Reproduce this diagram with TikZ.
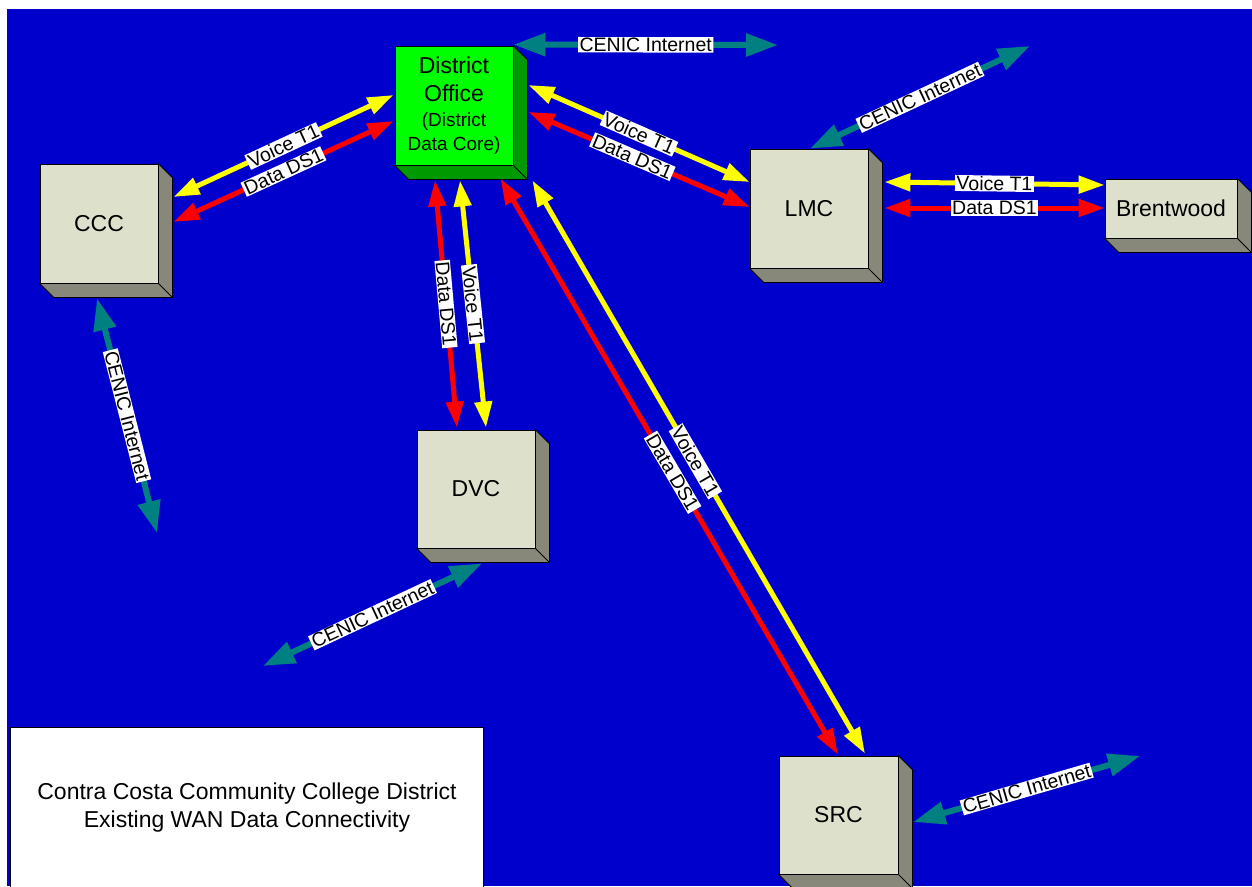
\documentclass[tikz,border=0pt]{standalone}
\usepackage{fontspec}
\setmainfont{Liberation Sans}
\usepackage{xcolor}
\definecolor{wanblue}{RGB}{0, 0, 204}
\definecolor{voiceyellow}{RGB}{255, 255, 0}
\definecolor{datared}{RGB}{255, 0, 0}
\definecolor{cenicteal}{RGB}{0, 128, 128}
\definecolor{sitefront}{RGB}{221, 224, 202}
\definecolor{siteside}{RGB}{136, 136, 122}
\definecolor{corefront}{RGB}{0, 255, 0}
\definecolor{coreside}{RGB}{0, 153, 0}
\usetikzlibrary{arrows.meta, positioning, calc}

\newcommand{\corenote}{\fontsize{19}{23}\selectfont}
% name, position, width, height, front, side, font, text
\newcommand{\sitebox}[8]{%
    \node[face, fill=#5, minimum width=#3, minimum height=#4, font=#7] (#1) at #2 {#8};
    \filldraw[#6, draw=black, line width=0.8pt] (#1.north east) -- ++(14,14) -- ($(#1.south east)+(14,14)$) -- ($(#1.south west)+(14,14)$) -- (#1.south west) -- (#1.south east) -- cycle;
    \draw[line width=0.8pt] (#1.south east) -- ++(14,14);
}

\begin{document}
\begin{tikzpicture}[x=1pt, y=-1pt,
    face/.style={draw=black, line width=0.8pt, inner sep=0pt, align=center},
    lbl/.style={fill=white, inner xsep=1.5pt, inner ysep=0.8pt, sloped, font=\fontsize{19.5}{21}\selectfont},
    voice/.style={draw=voiceyellow, line width=5pt, {Triangle[length=26pt,width=17pt]}-{Triangle[length=26pt,width=17pt]}},
    data/.style={draw=datared, line width=5pt, {Triangle[length=26pt,width=17pt]}-{Triangle[length=26pt,width=17pt]}},
    cenic/.style={draw=cenicteal, line width=6pt, {Triangle[length=32pt,width=22pt]}-{Triangle[length=32pt,width=22pt]}}]
    \useasboundingbox (0,0) rectangle (1252,886);
    \clip (0,0) rectangle (1252,886);
    \fill[white] (0,0) rectangle (1252,886);
    \fill[wanblue] (7,9) rectangle (1252,886);

    % sites
    \sitebox{do}{(454,105.5)}{118}{119}{corefront}{coreside}{\fontsize{23}{28}\selectfont}{District\\Office\\[-3pt]\corenote(District\\[-4pt]\corenote Data Core)}
    \sitebox{ccc}{(99,223.5)}{118}{119}{sitefront}{siteside}{\fontsize{23}{26}\selectfont}{CCC}
    \sitebox{lmc}{(809,208.5)}{118}{119}{sitefront}{siteside}{\fontsize{23}{26}\selectfont}{LMC}
    \sitebox{brentwood}{(1171,208.5)}{132}{59}{sitefront}{siteside}{\fontsize{23}{26}\selectfont}{Brentwood}
    \sitebox{dvc}{(476,489)}{118}{118}{sitefront}{siteside}{\fontsize{23}{26}\selectfont}{DVC}
    \sitebox{src}{(838.5,815)}{119}{118}{sitefront}{siteside}{\fontsize{23}{26}\selectfont}{SRC}

    % T1 and DS1 links
    \draw[voice] ($(ccc.east)+(15,-26.5)$) -- node[lbl] (v-ccc) {Voice T1} ($(do.west)+(-1,-10.5)$);
    \draw[data] ($(ccc.east)+(15,-1.5)$) -- node[lbl] (d-ccc) {Data DS1} ($(do.west)+(-1,15.5)$);
    \draw[voice] ($(do.east)+(15,-20.5)$) -- node[lbl] (v-lmc) {Voice T1} ($(lmc.west)+(0,-26.5)$);
    \draw[data] ($(do.east)+(15,6.5)$) -- node[lbl, pos=.47] (d-lmc) {Data DS1} ($(lmc.west)+(0,-1.5)$);
    \draw[voice] ($(lmc.east)+(16,-26.5)$) -- node[lbl] (v-brent) {Voice T1} ($(brentwood.west)+(0,-23.5)$);
    \draw[data] ($(lmc.east)+(16,-0.5)$) -- node[lbl] (d-brent) {Data DS1} ($(brentwood.west)+(0,-0.5)$);
    \draw[data] ($(do.south)+(-19,15)$) -- node[lbl] (d-dvc) {Data DS1} ($(dvc.north)+(-19,-2)$);
    \draw[voice] ($(do.south)+(6,15)$) -- node[lbl] (v-dvc) {Voice T1} ($(dvc.north)+(10,-2)$);
    \draw[data] ($(do.south east)+(-13,13)$) -- node[lbl, pos=.51] (d-src) {Data DS1} ($(src.north)+(-0.5,-1)$);
    \draw[voice] ($(do.south east)+(19,15)$) -- node[lbl, pos=.49] (v-src) {Voice T1} ($(src.north)+(26.5,-2)$);

    % internet links
    \coordinate (net-do) at (778,45);
    \coordinate (net-lmc) at (1030,46);
    \coordinate (net-ccc) at (157,533);
    \coordinate (net-dvc) at (263,666);
    \coordinate (net-src) at (1140,756);
    \draw[cenic] ($(do.north east)+(0,-1)$) -- node[lbl] (c-do) {CENIC Internet} (net-do);
    \draw[cenic] ($(lmc.north)+(1,0)$) -- node[lbl] (c-lmc) {CENIC Internet} (net-lmc);
    \draw[cenic] ($(ccc.south)+(-2,15)$) -- node[lbl] (c-ccc) {CENIC Internet} (net-ccc);
    \draw[cenic] ($(dvc.south)+(6,15)$) -- node[lbl] (c-dvc) {CENIC Internet} (net-dvc);
    \draw[cenic] ($(src.east)+(15,7)$) -- node[lbl] (c-src) {CENIC Internet} (net-src);

    % title
    \draw[fill=white, line width=0.8pt] (10,727) rectangle (483,900);
    \node[font=\fontsize{23}{28}\selectfont, align=center] (title) at (247,808) {Contra Costa Community College District\\Existing WAN Data Connectivity};
\end{tikzpicture}
\end{document}
